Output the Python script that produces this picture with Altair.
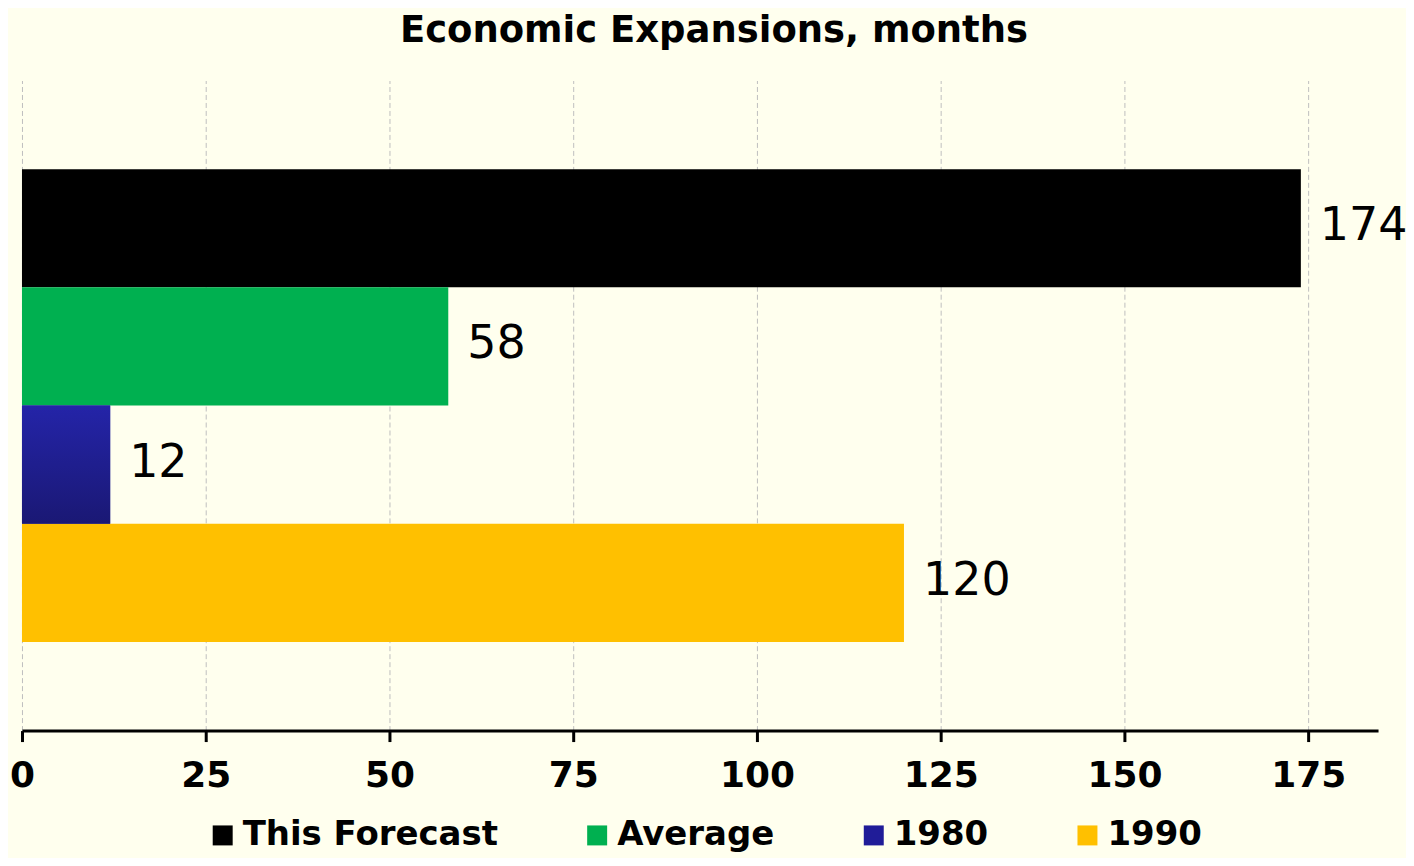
import altair as alt
import pandas as pd

categories = ["This Forecast", "Average", "1980", "1990"]
months = [174, 58, 12, 120]
colors = ["#000000", "#00B050", "#201C98", "#FFC000"]
tick_values = [0, 25, 50, 75, 100, 125, 150, 175]

df = pd.DataFrame({"series": categories, "months": months})

FONT = "DejaVu Sans"
BG = "#FFFFEE"

y_enc = alt.Y("series:N", sort=categories, axis=None,
              scale=alt.Scale(paddingInner=0, paddingOuter=0.75))
x_enc = alt.X("months:Q",
              scale=alt.Scale(domain=[0, 184.5], nice=False, zero=True),
              axis=alt.Axis(values=tick_values, title=None, grid=True,
                            gridDash=[5, 3], gridColor="#BFBFBF", gridWidth=1,
                            domainColor="#000000", domainWidth=3,
                            tickColor="#000000", tickWidth=3, tickSize=11,
                            labelFont=FONT, labelFontWeight="bold", labelFontSize=36,
                            labelColor="#000000", labelPadding=17, labelFlush=False))

bars = alt.Chart(df).mark_bar(stroke=None).encode(
    x=x_enc,
    y=y_enc,
    color=alt.Color("series:N", sort=categories,
                    scale=alt.Scale(domain=categories, range=colors),
                    legend=alt.Legend(title=None, orient="none", direction="horizontal",
                                      legendX=184, legendY=739,
                                      symbolType="square", symbolSize=400,
                                      symbolStrokeWidth=0, labelOffset=3,
                                      columnPadding=82,
                                      labelFont=FONT, labelFontWeight="bold",
                                      labelFontSize=34, labelColor="#000000",
                                      labelLimit=400)),
)

grad_bar = alt.Chart(df).transform_filter(alt.datum.series == "1980").mark_bar(
    fill=alt.Gradient(gradient="linear", x1=0, x2=0, y1=0, y2=1,
                      stops=[alt.GradientStop(color="#2424A8", offset=0),
                             alt.GradientStop(color="#1A1874", offset=1)])
).encode(x="months:Q", y=alt.Y("series:N", sort=categories))

labels = alt.Chart(df).mark_text(align="left", baseline="middle", dx=19, dy=-2,
                                 font=FONT, fontSize=46, color="#000000").encode(
    x="months:Q", y=alt.Y("series:N", sort=categories), text="months:Q")

chart = alt.layer(bars, grad_bar, labels).properties(
    width=1358, height=651,
    autosize=alt.AutoSizeParams(type="none"),
    padding={"left": 14, "top": 72, "right": 28, "bottom": 127},
    background=BG,
    title=alt.Title("Economic Expansions, months", font=FONT, fontWeight="bold",
                    fontSize=37, color="#000000", anchor="middle", offset=31, dx=14),
).configure_view(stroke=None).configure_axisY(grid=False)

chart.save("out.html", embed_options={"renderer": "svg", "actions": False})
